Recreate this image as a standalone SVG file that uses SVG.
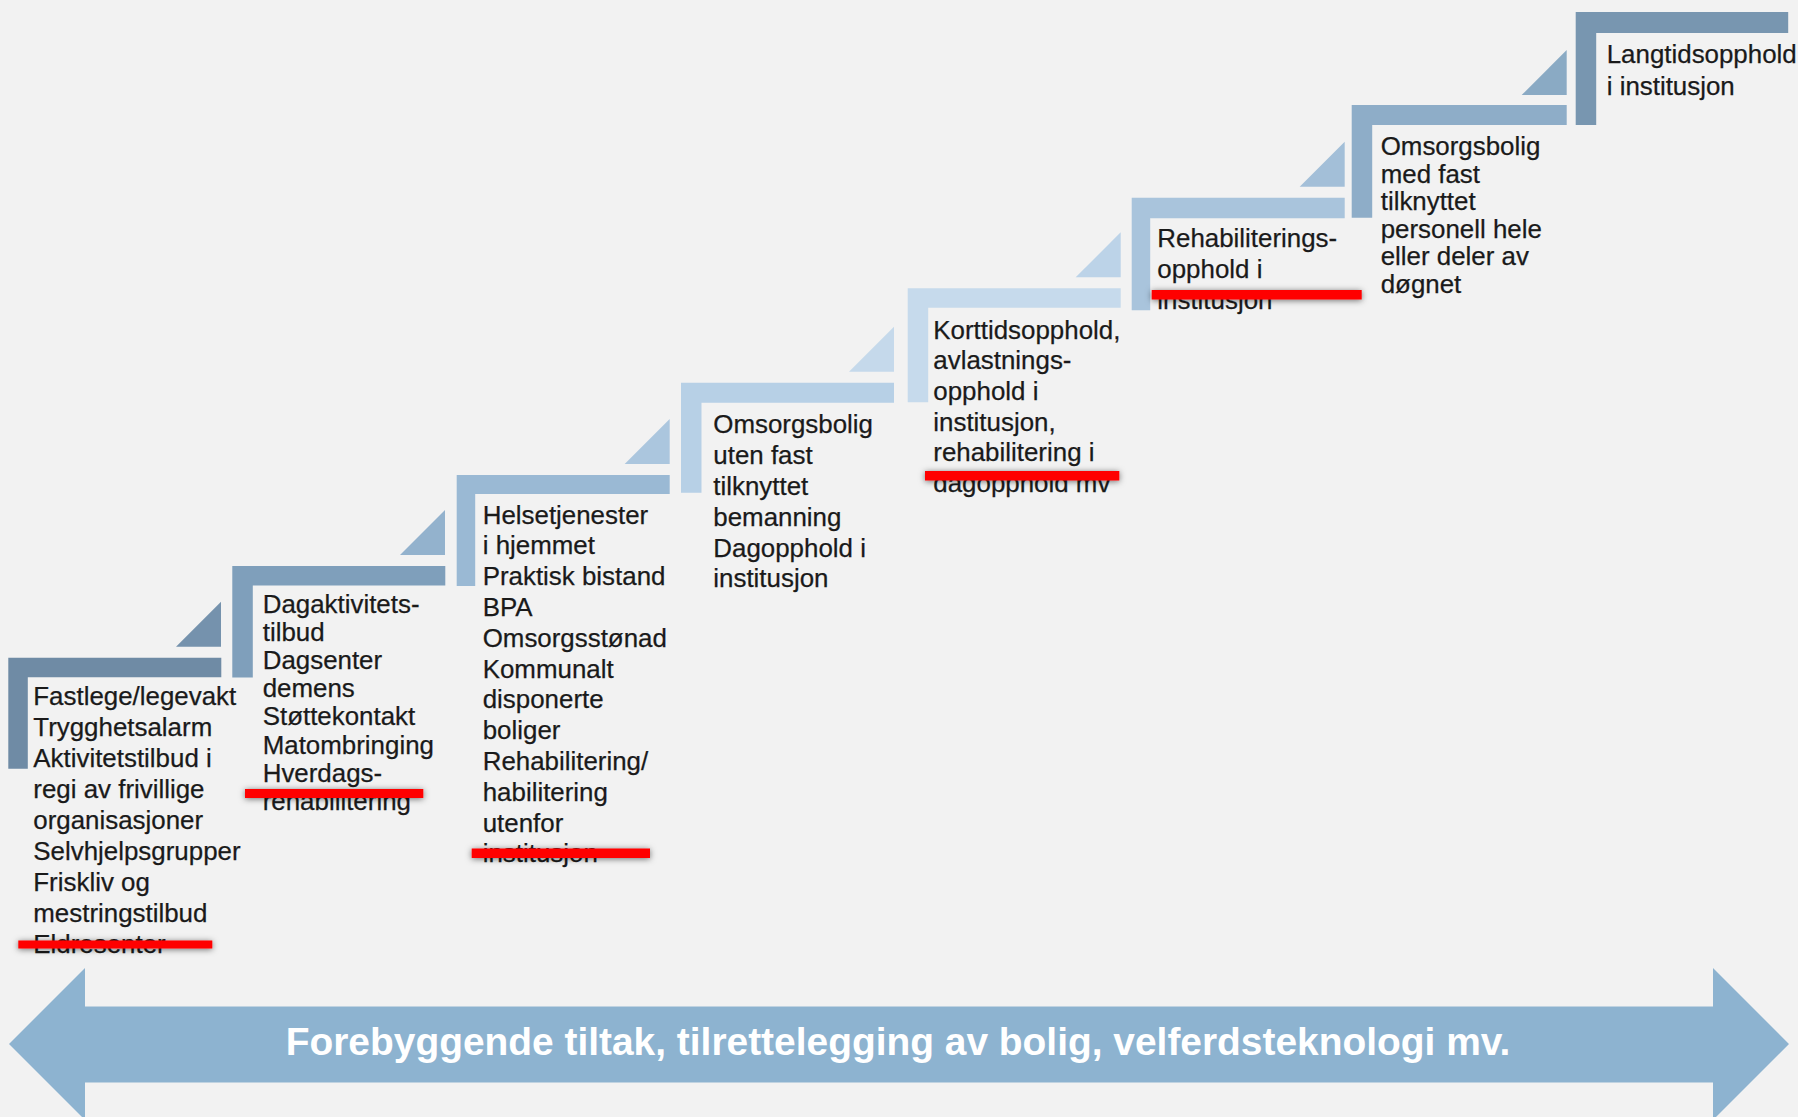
<svg xmlns="http://www.w3.org/2000/svg" width="1798" height="1117" viewBox="0 0 1798 1117">
<style>
  .t { font-family: "Liberation Sans", Arial, sans-serif; font-size: 25.9px; fill: #1a1a1a; stroke: #1a1a1a; stroke-width: 0.25px; }
  .big { font-family: "Liberation Sans", Arial, sans-serif; font-size: 38.9px; font-weight: bold; fill: #ffffff; }
  .red { fill: #ff0000; filter: url(#sh); }
</style>
<defs>
  <filter id="sh" x="-10%" y="-150%" width="120%" height="400%">
    <feDropShadow dx="0" dy="1" stdDeviation="3" flood-color="#000000" flood-opacity="0.55"/>
  </filter>
</defs>
<rect width="1798" height="1117" fill="#f2f2f2"/>

<g id="connectors">
  <polygon points="176,646.7 221,646.7 221,601.7" fill="#7592ad"/>
  <polygon points="400,555 445,555 445,510" fill="#93b2cd"/>
  <polygon points="624.7,464 669.7,464 669.7,419" fill="#abc6de"/>
  <polygon points="849,371.7 894,371.7 894,326.7" fill="#c5d9eb"/>
  <polygon points="1075.7,277.3 1120.7,277.3 1120.7,232.3" fill="#bcd3e8"/>
  <polygon points="1299.7,186.7 1344.7,186.7 1344.7,141.7" fill="#a3bfd8"/>
  <polygon points="1521.7,95 1566.7,95 1566.7,50" fill="#8aaac4"/>
</g>

<g id="step1">
  <path d="M8.3 657.7 h213 v19.5 h-193.5 v91.5 h-19.5 z" fill="#6f8ba5"/>
  <text class="t"><tspan x="33.3" y="705">Fastlege/legevakt</tspan><tspan x="33.3" dy="31">Trygghetsalarm</tspan><tspan x="33.3" dy="31">Aktivitetstilbud i</tspan><tspan x="33.3" dy="31">regi av frivillige</tspan><tspan x="33.3" dy="31">organisasjoner</tspan><tspan x="33.3" dy="31">Selvhjelpsgrupper</tspan><tspan x="33.3" dy="31">Friskliv og</tspan><tspan x="33.3" dy="31">mestringstilbud</tspan><tspan x="33.3" dy="31">Eldresenter</tspan></text>
  <rect class="red" x="18.3" y="940.5" width="194" height="8"/>
</g>

<g id="step2">
  <path d="M232.3 566 h213 v19.5 h-192.5 v92 h-20.5 z" fill="#7f9fbb"/>
  <text class="t"><tspan x="262.7" y="613">Dagaktivitets-</tspan><tspan x="262.7" dy="28.1">tilbud</tspan><tspan x="262.7" dy="28.1">Dagsenter</tspan><tspan x="262.7" dy="28.1">demens</tspan><tspan x="262.7" dy="28.1">Støttekontakt</tspan><tspan x="262.7" dy="28.1">Matombringing</tspan><tspan x="262.7" dy="28.1">Hverdags-</tspan><tspan x="262.7" dy="28.1">rehabilitering</tspan></text>
  <rect class="red" x="245" y="789" width="178.3" height="9"/>
</g>

<g id="step3">
  <path d="M456.7 475 h213 v19 h-194.5 v92 h-18.5 z" fill="#9ab9d4"/>
  <text class="t"><tspan x="482.7" y="523.5">Helsetjenester</tspan><tspan x="482.7" dy="30.8">i hjemmet</tspan><tspan x="482.7" dy="30.8">Praktisk bistand</tspan><tspan x="482.7" dy="30.8">BPA</tspan><tspan x="482.7" dy="30.8">Omsorgsstønad</tspan><tspan x="482.7" dy="30.8">Kommunalt</tspan><tspan x="482.7" dy="30.8">disponerte</tspan><tspan x="482.7" dy="30.8">boliger</tspan><tspan x="482.7" dy="30.8">Rehabilitering/</tspan><tspan x="482.7" dy="30.8">habilitering</tspan><tspan x="482.7" dy="30.8">utenfor</tspan><tspan x="482.7" dy="30.8">institusjon</tspan></text>
  <rect class="red" x="471.7" y="848.5" width="178.3" height="9.5"/>
</g>

<g id="step4">
  <path d="M681 382.7 h213 v20 h-192.5 v90 h-20.5 z" fill="#b7d0e6"/>
  <text class="t"><tspan x="713.3" y="433.3">Omsorgsbolig</tspan><tspan x="713.3" dy="30.8">uten fast</tspan><tspan x="713.3" dy="30.8">tilknyttet</tspan><tspan x="713.3" dy="30.8">bemanning</tspan><tspan x="713.3" dy="30.8">Dagopphold i</tspan><tspan x="713.3" dy="30.8">institusjon</tspan></text>
</g>

<g id="step5">
  <path d="M907.7 288.3 h213 v19.5 h-192.5 v94.5 h-20.5 z" fill="#c6daec"/>
  <text class="t"><tspan x="933.3" y="338.5">Korttidsopphold,</tspan><tspan x="933.3" dy="30.7">avlastnings-</tspan><tspan x="933.3" dy="30.7">opphold i</tspan><tspan x="933.3" dy="30.7">institusjon,</tspan><tspan x="933.3" dy="30.7">rehabilitering i</tspan><tspan x="933.3" dy="30.7">dagopphold mv</tspan></text>
  <rect class="red" x="925" y="471" width="194.3" height="9.5"/>
</g>

<g id="step6">
  <path d="M1131.7 197.7 h213 v20.5 h-194.5 v92 h-18.5 z" fill="#a9c4dc"/>
  <text class="t"><tspan x="1157.3" y="246.7">Rehabiliterings-</tspan><tspan x="1157.3" dy="31">opphold i</tspan><tspan x="1157.3" dy="31">institusjon</tspan></text>
  <rect class="red" x="1151.7" y="290" width="210" height="9.5"/>
</g>

<g id="step7">
  <path d="M1351.7 105 h215 v20 h-194.5 v92.7 h-20.5 z" fill="#8eadc8"/>
  <text class="t"><tspan x="1380.7" y="155">Omsorgsbolig</tspan><tspan x="1380.7" dy="27.5">med fast</tspan><tspan x="1380.7" dy="27.5">tilknyttet</tspan><tspan x="1380.7" dy="27.5">personell hele</tspan><tspan x="1380.7" dy="27.5">eller deler av</tspan><tspan x="1380.7" dy="27.5">døgnet</tspan></text>
</g>

<g id="step8">
  <path d="M1575.7 12 h212.5 v21 h-192 v92 h-20.5 z" fill="#7896b0"/>
  <text class="t"><tspan x="1606.7" y="63">Langtidsopphold</tspan><tspan x="1606.7" dy="32">i institusjon</tspan></text>
</g>

<g id="arrow">
  <polygon points="9,1044 85,968 85,1006.5 1713,1006.5 1713,968 1789,1044 1713,1120 1713,1082.5 85,1082.5 85,1120" fill="#8db3d0"/>
  <text class="big" x="898" y="1055" text-anchor="middle">Forebyggende tiltak, tilrettelegging av bolig, velferdsteknologi mv.</text>
</g>
</svg>
